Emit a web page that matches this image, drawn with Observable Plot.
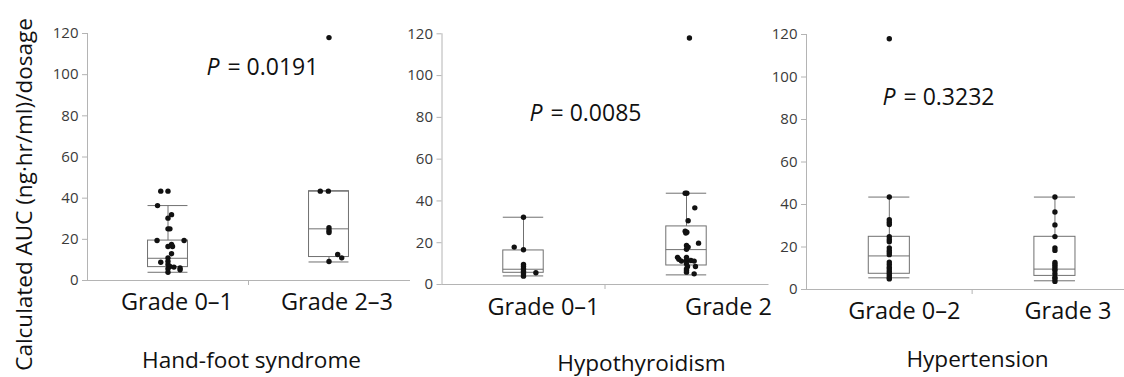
<!DOCTYPE html>
<html><head><meta charset="utf-8">
<script src="https://cdn.jsdelivr.net/npm/d3@7"></script>
<script src="https://cdn.jsdelivr.net/npm/@observablehq/plot@0.6"></script>
<style>
body{margin:0;background:#fff;}
#chart{position:relative;width:1124px;height:377px;overflow:hidden;font-family:"Open Sans",sans-serif;background:#fff;}
#chart svg{position:absolute;left:0;top:0;}
</style></head><body><div id="chart"></div>
<script>
// ---------- data ----------
const yTitle = "Calculated AUC (ng·hr/ml)/dosage";
const panelTitles = ["Hand-foot syndrome", "Hypothyroidism", "Hypertension"];
const groupLabels = [["Grade 0–1", "Grade 2–3"], ["Grade 0–1", "Grade 2"], ["Grade 0–2", "Grade 3"]];
const pValues = ["0.0191", "0.0085", "0.3232"];
const yTicks = [0, 20, 40, 60, 80, 100, 120];

// individual patients (value) and horizontal jitter (in category units)
const hfsLow = [43.4, 43.4, 36.4, 32.0, 30.3, 25.1, 25.1, 19.4, 19.4, 17.5, 16.5, 16.5, 13.0, 11.0, 9.4, 8.9, 7.8, 6.8, 6.5, 6.1, 5.2, 5.7, 4.0];
const hfsLowJit = [-0.045, 0, -0.065, 0.022, 0, 0, 0.012, -0.068, 0.1, 0.022, 0, 0.028, 0.022, 0, 0, -0.045, 0, 0.012, 0.037, 0.075, 0.075, 0, 0];
const hfsHigh = [43.4, 43.4, 25.6, 24.3, 23.3, 12.6, 11.0, 9.2, 118];
const hfsHighJit = [-0.054, -0.004, 0, 0, 0, 0.054, 0.079, 0, 0];

const hypoLow = [32.2, 17.9, 16.6, 9.6, 8.6, 7.5, 6.4, 5.1, 4.0, 5.6];
const hypoLowJit = [0, -0.057, 0, 0, 0, 0, 0, 0, 0, 0.076];
const hypoHigh = [43.7, 43.7, 36.7, 30.5, 25.5, 25.0, 24.6, 19.8, 18.7, 17.9, 16.9, 13.0, 12.1, 13.0, 11.2, 11.5, 11.5, 11.2, 9.9, 8.6, 8.6, 7.5, 6.7, 5.9, 5.1, 118];
const hypoHighJit = [-0.008, 0.002, 0.051, 0.01, -0.008, 0.002, -0.004, 0.074, 0, 0.01, 0, -0.055, -0.047, 0, -0.031, 0, 0.027, 0.047, 0, 0.006, 0.055, 0, 0, 0, 0.047, 0.018];

const htnLow = [43.5, 32.8, 31.7, 30.6, 24.8, 23.5, 22.5, 19.6, 18.4, 17.4, 16.4, 12.9, 11.8, 10.5, 9.6, 8.6, 7.6, 6.6, 5.5, 5.0, 118];
const htnHigh = [43.5, 36.5, 30.4, 24.9, 19.6, 18.4, 12.7, 11.8, 10.8, 9.8, 8.9, 7.4, 5.8, 5.0, 3.8];

// box-plot summary per panel [group1, group2]
const boxLow    = [[4.0, 9.0],  [4.1, 4.6],  [5.5, 4.1]];
const boxQ1     = [[6.5, 11.4], [5.6, 9.1],  [7.4, 6.4]];
const boxMedian = [[10.8, 25.1],[7.3, 16.7], [15.8, 9.6]];
const boxQ3     = [[19.4, 43.4],[16.3, 27.8],[24.8, 24.8]];
const boxHigh   = [[36.4, 43.4],[32.2, 43.7],[43.5, 43.5]];

const pointValues = [[hfsLow, hfsHigh], [hypoLow, hypoHigh], [htnLow, htnHigh]];
const pointJitter = [[hfsLowJit, hfsHighJit], [hypoLowJit, hypoHighJit], [[], []]];

// ---------- layout (pixels / styling only) ----------
const layout = [
  {ml: 87,    mr: 715,   mt: 33,   mb: 97, xmax: 2.5,  labelDx: [9, 8],   labelDy: 29, titleDx: 3,    titleDy: 87, px: 1.239, py: 103.5},
  {ml: 441.5, mr: 356.5, mt: 33.3, mb: 93, xmax: 2.5,  labelDx: [20, 42], labelDy: 30, titleDx: 36.5, titleDy: 86, px: 1.037, py: 81.8},
  {ml: 806,   mr: 0,     mt: 34,   mb: 88, xmax: 2.42, labelDx: [15, 13], labelDy: 29, titleDx: 12,   titleDy: 77, px: 0.959, py: 90.4}
];
const HW = 0.124;            // half box width in category units
const axisGray = "#b4b4b4";
const boxGray = "#707070";

const chart = document.getElementById("chart");

layout.forEach((L, p) => {
  const pts = [];
  pointValues[p].forEach((vals, g) => vals.forEach((v, i) => {
    const j = (pointJitter[p][g] && pointJitter[p][g][i]) || 0;
    pts.push({x: g + 1 + j, y: v});
  }));
  const boxes = [0, 1].map(g => ({
    x: g + 1, lo: boxLow[p][g], q1: boxQ1[p][g], med: boxMedian[p][g], q3: boxQ3[p][g], hi: boxHigh[p][g]
  }));

  const marks = [
    Plot.frame({anchor: "left", stroke: axisGray}),
    Plot.frame({anchor: "bottom", stroke: axisGray}),
    Plot.axisY({ticks: yTicks, tickSize: 5, tickPadding: 4, stroke: axisGray, fill: "#3a3a3a", fontSize: 15, label: null}),
    Plot.axisX({ticks: [1.5], tickSize: 5, tickFormat: () => "", stroke: axisGray, label: null}),
    Plot.ruleX(boxes, {x: "x", y1: "lo", y2: "q1", stroke: boxGray}),
    Plot.ruleX(boxes, {x: "x", y1: "q3", y2: "hi", stroke: boxGray}),
    Plot.rect(boxes, {x1: d => d.x - HW, x2: d => d.x + HW, y1: "q1", y2: "q3", stroke: boxGray, fill: "none"}),
    Plot.ruleY(boxes, {y: "med", x1: d => d.x - HW, x2: d => d.x + HW, stroke: boxGray}),
    Plot.ruleY(boxes, {y: "lo", x1: d => d.x - HW, x2: d => d.x + HW, stroke: boxGray}),
    Plot.ruleY(boxes, {y: "hi", x1: d => d.x - HW, x2: d => d.x + HW, stroke: boxGray}),
    Plot.dot(pts, {x: "x", y: "y", r: 2.7, fill: "#111", stroke: null}),
    Plot.text(["P"], {x: () => L.px, y: () => L.py, text: d => d, textAnchor: "start", fontStyle: "italic", fontSize: 23, fill: "#111"}),
    Plot.text(["= " + pValues[p]], {x: () => L.px, y: () => L.py, text: d => d, textAnchor: "start", dx: 21, fontSize: 23, fill: "#111"}),
    Plot.text([panelTitles[p]], {frameAnchor: "bottom", textAnchor: "middle", text: d => d, dx: L.titleDx, dy: L.titleDy, fontSize: 22.6, fill: "#111"})
  ];
  groupLabels[p].forEach((lab, g) => {
    marks.push(Plot.text([lab], {x: () => g + 1, frameAnchor: "bottom", textAnchor: "middle", text: d => d, dx: L.labelDx[g], dy: L.labelDy, fontSize: 23.5, fill: "#111"}));
  });
  if (p === 0) {
    marks.push(Plot.text([yTitle], {frameAnchor: "left", textAnchor: "middle", text: d => d, rotate: -90, dx: -63, dy: 37.5, fontSize: 22.5, fill: "#111"}));
  }

  const svg = Plot.plot({
    width: 1124, height: 377,
    marginLeft: L.ml, marginRight: L.mr, marginTop: L.mt, marginBottom: L.mb,
    x: {domain: [0.5, L.xmax], axis: null},
    y: {domain: [0, 120], axis: null},
    style: {fontFamily: "'Open Sans', sans-serif", background: "transparent", overflow: "visible"},
    marks
  });
  chart.appendChild(svg);
});
</script></body></html>
